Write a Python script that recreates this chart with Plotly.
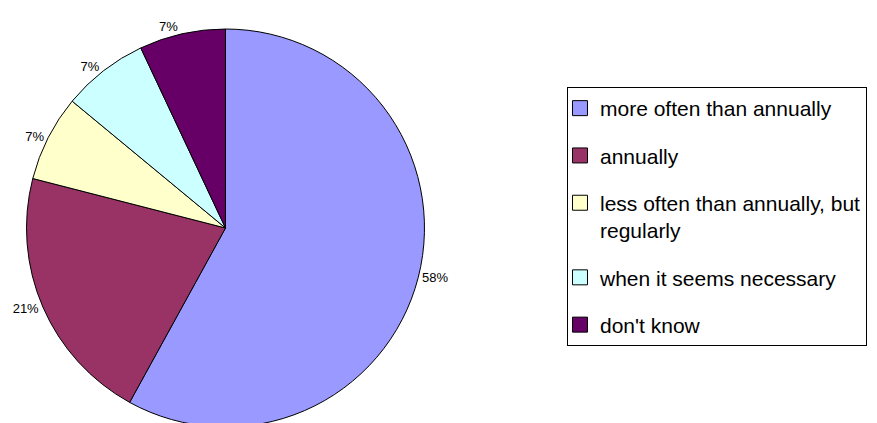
import textwrap
import plotly.graph_objects as go

# ---- data ----
categories = [
    "more often than annually",
    "annually",
    "less often than annually, but regularly",
    "when it seems necessary",
    "don't know",
]
shares = [58, 21, 7, 7, 7]
colors = ["#9999FF", "#993366", "#FFFFCC", "#CCFFFF", "#660066"]

font_family = "Liberation Sans, Arial, sans-serif"

fig = go.Figure()

fig.add_trace(go.Pie(
    labels=categories,
    values=shares,
    marker=dict(colors=colors, line=dict(color="#000000", width=1)),
    sort=False,
    direction="clockwise",
    rotation=0,
    texttemplate="%{percent:.0%}",
    textposition="outside",
    outsidetextfont=dict(family=font_family, size=13, color="#000000"),
    showlegend=False,
    domain=dict(x=[0.0211, 0.4749], y=[0, 1]),
    hoverinfo="label+percent",
))

# legend entries (one per category, same colours as the slices)
for cat, col in zip(categories, colors):
    fig.add_trace(go.Scatter(
        x=[None], y=[None],
        mode="markers",
        name="<br>".join(textwrap.wrap(cat, 30)),
        marker=dict(symbol="square", size=15, color=col,
                    line=dict(color="#000000", width=1)),
        legendgroup=cat,
        showlegend=True,
        hoverinfo="skip",
    ))

fig.update_layout(
    width=877, height=423,
    margin=dict(l=0, r=0, t=21, b=4),
    paper_bgcolor="#FFFFFF",
    plot_bgcolor="#FFFFFF",
    font=dict(family=font_family, color="#000000"),
    xaxis=dict(visible=False),
    yaxis=dict(visible=False),
    showlegend=True,
    legend=dict(
        x=0.6374, y=0.8543, xanchor="left", yanchor="top",
        bordercolor="#000000", borderwidth=1, bgcolor="#FFFFFF",
        font=dict(family=font_family, size=21, color="#000000"),
        tracegroupgap=17,
        indentation=-8,
        valign="top",
    ),
)

fig.write_html("out.html")
